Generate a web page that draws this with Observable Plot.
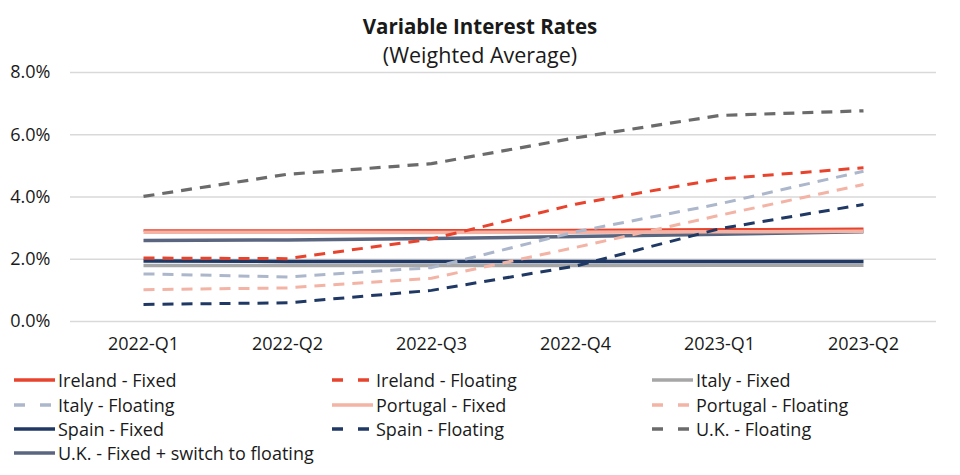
<!DOCTYPE html>
<html>
<head>
<meta charset="utf-8">
<script src="https://cdn.jsdelivr.net/npm/d3@7"></script>
<script src="https://cdn.jsdelivr.net/npm/@observablehq/plot@0.6"></script>
<style>
  html, body { margin: 0; padding: 0; background: #fff; }
  body { width: 960px; height: 475px; overflow: hidden; font-family: "Open Sans", sans-serif; color: #1a1a1a; position: relative; }
  #title { position: absolute; left: 0; width: 960px; top: 12px; text-align: center; font-size: 20.5px; font-weight: 700; line-height: 28px; }
  #subtitle { position: absolute; left: 0; width: 960px; top: 41px; text-align: center; font-size: 21.5px; line-height: 28px; }
  #chart { position: absolute; left: 0; top: 50px; }
  #legend { position: absolute; left: 0; top: 368px; width: 960px; }
  .item { position: absolute; display: flex; align-items: center; font-size: 18px; line-height: 24px; white-space: nowrap; }
  .item svg { margin-right: 3px; }
</style>
</head>
<body>
<div id="title">Variable Interest Rates</div>
<div id="subtitle">(Weighted Average)</div>
<div id="chart"></div>
<div id="legend"></div>
<script>
const quarters = ["2022-Q1", "2022-Q2", "2022-Q3", "2022-Q4", "2023-Q1", "2023-Q2"];
const yTicks = [0, 2, 4, 6, 8];

const irelandFixed = [2.92, 2.92, 2.93, 2.94, 2.96, 2.98];
const irelandFloating = [2.04, 2.02, 2.65, 3.77, 4.58, 4.94];
const italyFixed = [1.80, 1.80, 1.80, 1.80, 1.81, 1.81];
const italyFloating = [1.53, 1.43, 1.73, 2.88, 3.78, 4.83];
const portugalFixed = [2.87, 2.87, 2.86, 2.87, 2.88, 2.90];
const portugalFloating = [1.02, 1.08, 1.39, 2.38, 3.41, 4.40];
const spainFixed = [1.94, 1.93, 1.93, 1.93, 1.93, 1.93];
const spainFloating = [0.55, 0.60, 1.00, 1.78, 2.98, 3.76];
const ukFloating = [4.02, 4.73, 5.07, 5.90, 6.62, 6.77];
const ukFixedSwitch = [2.60, 2.62, 2.67, 2.73, 2.80, 2.88];

const seriesNames = [
  "Ireland - Fixed", "Ireland - Floating", "Italy - Fixed",
  "Italy - Floating", "Portugal - Fixed", "Portugal - Floating",
  "Spain - Fixed", "Spain - Floating", "U.K. - Floating",
  "U.K. - Fixed + switch to floating"
];
const seriesValues = [
  irelandFixed, irelandFloating, italyFixed,
  italyFloating, portugalFixed, portugalFloating,
  spainFixed, spainFloating, ukFloating,
  ukFixedSwitch
];
const seriesColors = [
  "#E8432D", "#E8432D", "#A6A6A6",
  "#ADB7CB", "#F3B3A5", "#F3B3A5",
  "#1F3864", "#1F3864", "#6B6B6B",
  "#5A6680"
];
const seriesDashed = [false, true, false, true, false, true, false, true, true, false];
const seriesWidth = [2.5, 3, 3.5, 3, 3.5, 3, 3.5, 3, 3.2, 3.5];

// draw order: put Portugal Fixed above Ireland Fixed like the reference
const drawOrder = [2, 6, 9, 0, 4, 3, 5, 7, 1, 8];

const marks = [
  Plot.ruleY(yTicks, {stroke: "#D9D9D9", strokeWidth: 1.3})
];
for (const i of drawOrder) {
  const data = quarters.map((q, j) => ({q, v: seriesValues[i][j]}));
  marks.push(Plot.line(data, {
    x: "q", y: "v",
    stroke: seriesColors[i],
    strokeWidth: seriesWidth[i],
    strokeDasharray: seriesDashed[i] ? "11,8" : null,
    strokeLinecap: "butt"
  }));
}

const chart = Plot.plot({
  width: 960,
  height: 312,
  marginTop: 22,
  marginBottom: 41,
  marginLeft: 70,
  marginRight: 24,
  style: {fontFamily: "Open Sans, sans-serif", fontSize: "18px", color: "#1a1a1a", background: "transparent", overflow: "visible"},
  x: {type: "point", domain: quarters, padding: 0.5, label: null, tickSize: 0, tickPadding: 16},
  y: {domain: [0, 8], ticks: yTicks, tickFormat: d => d.toFixed(1) + "%", label: null, tickSize: 0, tickPadding: 20},
  marks
});
document.getElementById("chart").appendChild(chart);

// legend
const legend = document.getElementById("legend");
const colX = [13, 331, 651];
const rowY = [0, 25, 49, 73];
seriesNames.forEach((name, i) => {
  const col = i % 3, row = Math.floor(i / 3);
  const div = document.createElement("div");
  div.className = "item";
  div.style.left = colX[col] + "px";
  div.style.top = rowY[row] + "px";
  const ns = "http://www.w3.org/2000/svg";
  const svg = document.createElementNS(ns, "svg");
  svg.setAttribute("width", 42);
  svg.setAttribute("height", 10);
  const ln = document.createElementNS(ns, "line");
  ln.setAttribute("x1", 1); ln.setAttribute("x2", 42);
  ln.setAttribute("y1", 5); ln.setAttribute("y2", 5);
  ln.setAttribute("stroke", seriesColors[i]);
  ln.setAttribute("stroke-width", 3.5);
  if (seriesDashed[i]) ln.setAttribute("stroke-dasharray", "11,15");
  svg.appendChild(ln);
  div.appendChild(svg);
  const span = document.createElement("span");
  span.textContent = name;
  div.appendChild(span);
  legend.appendChild(div);
});
</script>
</body>
</html>
